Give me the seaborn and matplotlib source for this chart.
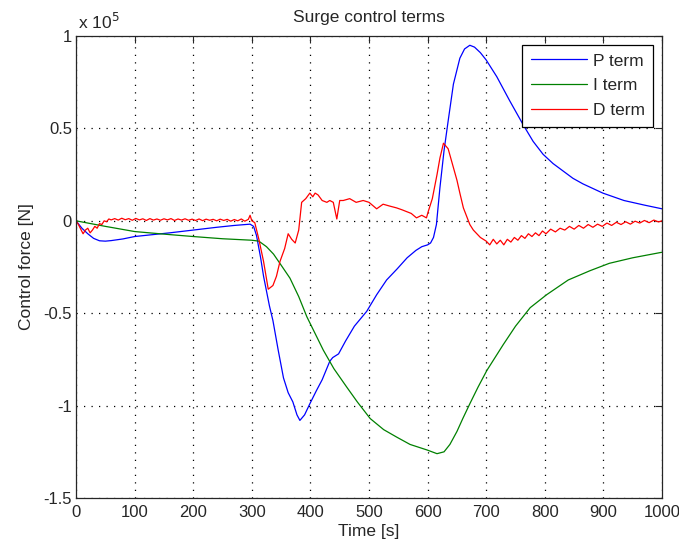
import numpy as np
import pandas as pd
import matplotlib
matplotlib.use("Agg")
import matplotlib.pyplot as plt
from matplotlib.ticker import FuncFormatter
import seaborn as sns

# values, force in units of 1e5 N
p_t = [0, 10, 20, 30, 40, 50, 60, 80, 100, 130, 160, 200, 240, 270, 297, 303, 308, 315, 320,
       325, 330, 336, 345, 354, 362, 370, 377, 382, 390, 399, 410, 420, 433, 438, 443, 448,
       460, 475, 496, 513, 530, 548, 565, 580, 590, 600, 605, 610, 615, 621, 628, 635, 644,
       655, 663, 672, 680, 690, 700, 718, 740, 763, 780, 797, 814, 831, 848, 865, 882, 899,
       935, 970, 1000]
p_term = [0, -0.04, -0.07, -0.095, -0.108, -0.11, -0.107, -0.098, -0.085, -0.075, -0.065,
          -0.05, -0.035, -0.025, -0.018, -0.03, -0.08, -0.20, -0.30, -0.38, -0.46, -0.54,
          -0.70, -0.85, -0.93, -0.98, -1.05, -1.08, -1.05, -0.99, -0.92, -0.86, -0.76, -0.74,
          -0.73, -0.72, -0.65, -0.57, -0.49, -0.40, -0.32, -0.26, -0.20, -0.16, -0.14, -0.13,
          -0.12, -0.09, -0.02, 0.18, 0.38, 0.54, 0.74, 0.88, 0.93, 0.95, 0.94, 0.91, 0.87,
          0.78, 0.65, 0.52, 0.43, 0.36, 0.31, 0.27, 0.23, 0.20, 0.175, 0.15,
          0.11, 0.085, 0.065]

i_t = [0, 25, 50, 100, 150, 200, 250, 300, 312, 325, 337, 350, 365, 380, 394, 408, 422, 440,
       462, 480, 502, 525, 547, 570, 599, 616, 628, 638, 650, 660, 672, 686, 701, 715, 729,
       750, 775, 803, 840, 877, 910, 950, 1000]
i_term = [0, -0.015, -0.03, -0.058, -0.072, -0.085, -0.097, -0.105, -0.11, -0.14, -0.18,
          -0.24, -0.31, -0.41, -0.52, -0.61, -0.70, -0.80, -0.90, -0.98, -1.07, -1.13, -1.17,
          -1.21, -1.24, -1.26, -1.25, -1.21, -1.14, -1.07, -0.99, -0.90, -0.81, -0.74, -0.67,
          -0.57, -0.47, -0.40, -0.32, -0.27, -0.23, -0.20, -0.17]

d_t = [0, 4, 8, 12, 16, 20, 24, 28, 32, 36, 40, 44, 48, 52, 56, 60,
       66, 72, 78, 84, 90, 96, 102, 108, 114, 120, 126, 132, 138, 144, 150, 156, 162, 168,
       174, 180, 186, 192, 198, 204, 210, 216, 222, 228, 234, 240, 246, 252, 258, 264, 270,
       276, 282, 288, 294, 297, 300,
       305, 312, 320, 328, 336, 342, 348, 356, 362, 368, 374, 380, 385, 392, 399, 404, 408,
       413, 420, 428, 433, 439, 445, 450, 456, 467, 478, 490, 500, 513, 524, 535, 547, 556,
       564, 572, 581, 590, 598, 601,
       608, 616, 621, 627, 635, 643, 650, 655, 661, 667, 672, 678, 684,
       690, 695, 700, 706, 712, 718, 724, 730, 736, 742, 748, 754, 760, 766, 772, 778, 784,
       790, 796, 802, 810, 818, 826, 834, 842, 850, 858, 866, 874, 882, 890, 898, 906, 914,
       922, 930, 938, 946, 954, 962, 970, 978, 986, 994, 1000]
d_term = [0, -0.02, -0.045, -0.07, -0.05, -0.04, -0.065, -0.05, -0.03, -0.04, -0.015, -0.02,
          0.0, -0.005, 0.01, 0.005,
          0.012, 0.004, 0.014, 0.006, 0.012, 0.003, 0.013, 0.005, 0.011, 0.002, 0.012, 0.004,
          0.010, 0.003, 0.011, 0.005, 0.012, 0.002, 0.010, 0.004, 0.011, 0.003, 0.009, 0.002,
          0.010, 0.001, 0.009, 0.003, 0.008, 0.000, 0.009, 0.002, 0.008, -0.002, 0.007, 0.000,
          0.010, -0.002, 0.008, 0.03, 0.0,
          -0.01, -0.10, -0.22, -0.37, -0.35, -0.30, -0.22, -0.15, -0.07, -0.10, -0.12, -0.05,
          0.10, 0.12, 0.15, 0.13, 0.15, 0.14, 0.11, 0.10, 0.11, 0.10, 0.01, 0.11, 0.11, 0.12,
          0.10, 0.11, 0.10, 0.065, 0.09, 0.08, 0.07, 0.06, 0.05, 0.04, 0.016, 0.03, 0.016, 0.05,
          0.12, 0.25, 0.34, 0.42, 0.39, 0.30, 0.22, 0.15, 0.07, 0.02, -0.02, -0.05, -0.07,
          -0.09, -0.10, -0.11, -0.13, -0.10, -0.125, -0.105, -0.13, -0.10, -0.115, -0.09,
          -0.105, -0.08, -0.095, -0.07, -0.085, -0.065, -0.08, -0.055, -0.07,
          -0.045, -0.06, -0.04, -0.05, -0.03, -0.045, -0.025, -0.04, -0.02, -0.035, -0.018,
          -0.03, -0.012, -0.025, -0.008, -0.02, -0.005, -0.018, -0.002, -0.012, 0.002, -0.01,
          0.004, -0.006, 0.0]

labels = ["P term", "I term", "D term"]
colors = ["#0000ff", "#008000", "#ff0000"]

x_ticks = [0, 100, 200, 300, 400, 500, 600, 700, 800, 900, 1000]
y_ticks = [-1.5, -1, -0.5, 0, 0.5, 1]

df = pd.concat([
    pd.DataFrame({"t": p_t, "force": p_term, "term": labels[0]}),
    pd.DataFrame({"t": i_t, "force": i_term, "term": labels[1]}),
    pd.DataFrame({"t": d_t, "force": d_term, "term": labels[2]}),
], ignore_index=True)

sns.set_theme(style="white")
plt.rcParams["font.family"] = ["Liberation Sans", "DejaVu Sans"]
plt.rcParams["axes.unicode_minus"] = False
fs = 12.5
txt = "#262626"

fig = plt.figure(figsize=(6.79, 5.5), dpi=100)
ax = fig.add_axes([0.112, 0.0945, 0.863, 0.84])

sns.lineplot(data=df, x="t", y="force", hue="term", palette=colors, sort=False,
             estimator=None, linewidth=0.9, ax=ax)

ax.set_xlim(0, 1000)
ax.set_ylim(-1.5, 1)
ax.set_xticks(x_ticks)
ax.set_yticks(y_ticks)
ax.yaxis.set_major_formatter(FuncFormatter(lambda v, pos: f"{v:g}"))
ax.tick_params(direction="in", length=5, width=0.8, top=True, right=True,
               labelsize=12, colors=txt)
ax.tick_params(axis="x", pad=5)
ax.tick_params(axis="y", pad=3)
ax.grid(True, linestyle=(0, (1, 5)), color="black", linewidth=0.9)
for s in ax.spines.values():
    s.set_color(txt)
    s.set_linewidth(0.9)

ax.set_title("Surge control terms", fontsize=fs, color=txt, pad=10)
ax.set_xlabel("Time [s]", fontsize=fs, color=txt, labelpad=3)
ax.set_ylabel("Control force [N]", fontsize=fs, color=txt, labelpad=7)
ax.text(0.003, 1.016, "x 10$^5$", transform=ax.transAxes, fontsize=fs, color=txt)

leg = ax.legend(loc="upper right", fontsize=fs, handlelength=3.2, frameon=True,
                fancybox=False, framealpha=1, edgecolor="black", borderaxespad=0.5,
                borderpad=0.5, labelspacing=0.55, handletextpad=0.35)
leg.get_frame().set_linewidth(0.9)

fig.savefig("out.png", dpi=100, facecolor="white")
